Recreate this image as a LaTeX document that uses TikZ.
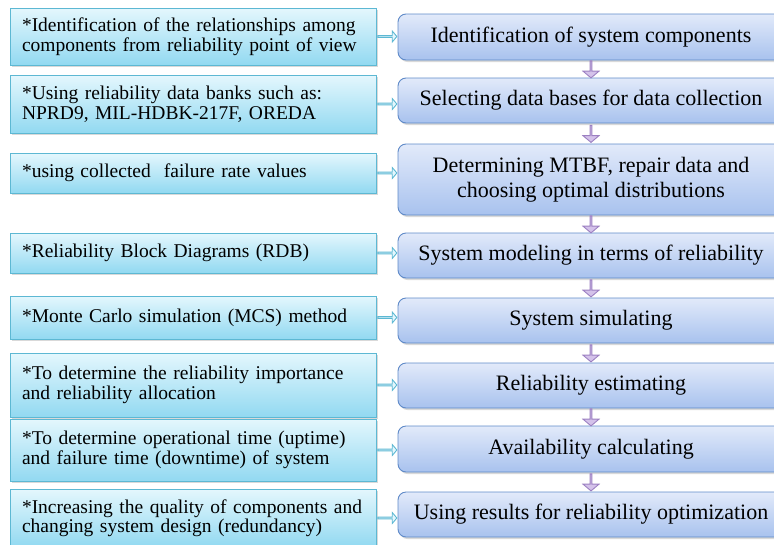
\documentclass[tikz,border=0pt]{standalone}
\usepackage{fontspec}
\setmainfont{Liberation Serif}
\usetikzlibrary{arrows.meta,positioning,shapes.arrows,shadows,calc}

\definecolor{lcyan}{HTML}{E4F7FD}
\definecolor{dcyan}{HTML}{92D9F1}
\definecolor{ecyan}{HTML}{5DB8D3}
\definecolor{lblue}{HTML}{E2EAFA}
\definecolor{dblue}{HTML}{A8C2EE}
\definecolor{eblue}{HTML}{5F8AC8}
\definecolor{lviol}{HTML}{D4C2EA}
\definecolor{eviol}{HTML}{9C80C2}

\begin{document}
\begin{tikzpicture}[x=1pt,y=-1pt,
  lb/.style={draw=ecyan,line width=0.9pt,top color=lcyan,bottom color=dcyan,align=left,text width=342pt,
    minimum width=366pt,inner sep=0pt,font=\fontsize{19.5}{19.5}\selectfont,
    drop shadow={opacity=0.3,shadow xshift=1.5pt,shadow yshift=-2pt}},
  rb/.style={draw=eblue,line width=0.9pt,top color=lblue,bottom color=dblue,rounded corners=8pt,align=center,
    minimum width=386pt,inner sep=0pt,font=\fontsize{22}{24.5}\selectfont,
    drop shadow={opacity=0.3,shadow xshift=1.5pt,shadow yshift=-2pt}},
  da/.style={single arrow,draw=eviol,fill=lviol,line width=0.9pt,shape border rotate=270,inner sep=0pt,
    minimum height=17pt,minimum width=16pt,single arrow head extend=3.5pt,single arrow tip angle=100},
  ha/.style={single arrow,draw=ecyan,fill=lcyan,line width=0.9pt,inner sep=0pt,
    minimum height=19pt,minimum width=11pt,single arrow head extend=2.5pt,single arrow tip angle=100}]
  \useasboundingbox (0,0) rectangle (774,544);
  % right column: steps
  \node[rb,minimum height=46pt] (r1) at (591,37) {Identification of system components};
  \node[rb,minimum height=45pt] (r2) at (591,100.5) {Selecting data bases for data collection};
  \node[rb,minimum height=71pt] (r3) at (591,179.5) {Determining MTBF, repair data and\\choosing optimal distributions};
  \node[rb,minimum height=45pt] (r4) at (591,255.5) {System modeling in terms of reliability};
  \node[rb,minimum height=45pt] (r5) at (591,320.5) {System simulating};
  \node[rb,minimum height=45pt] (r6) at (591,385.5) {Reliability estimating};
  \node[rb,minimum height=46pt] (r7) at (591,449) {Availability calculating};
  \node[rb,minimum height=45pt] (r8) at (591,514.5) {Using results for reliability optimization};
  % left column: notes
  \node[lb,minimum height=57pt] (l1) at (193,36.5) {*Identification of the relationships among\\components from reliability point of view};
  \node[lb,minimum height=58pt] (l2) at (193,104) {*Using reliability data banks such as:\\NPRD9, MIL-HDBK-217F, OREDA};
  \node[lb,minimum height=40pt] (l3) at (193,173) {*using collected\ \ failure rate values};
  \node[lb,minimum height=40pt] (l4) at (193,253) {*Reliability Block Diagrams (RDB)};
  \node[lb,minimum height=43pt] (l5) at (193,317.5) {*Monte Carlo simulation (MCS) method};
  \node[lb,minimum height=64pt] (l6) at (193,385) {*To determine the reliability importance\\and reliability allocation};
  \node[lb,minimum height=62pt] (l7) at (193,450) {*To determine operational time (uptime)\\and failure time (downtime) of system};
  \node[lb,minimum height=58pt] (l8) at (193,518) {*Increasing the quality of components and\\changing system design (redundancy)};
  % arrows
  \foreach \i in {1,...,8}
    \path (l\i.east) -- (l\i.east -| r\i.west) node[midway,ha] (h\i) {};
  \foreach \i/\j in {1/2,2/3,3/4,4/5,5/6,6/7,7/8}
    \path (r\i.south) -- (r\j.north) node[midway,da] (d\i) {};
\end{tikzpicture}
\end{document}
